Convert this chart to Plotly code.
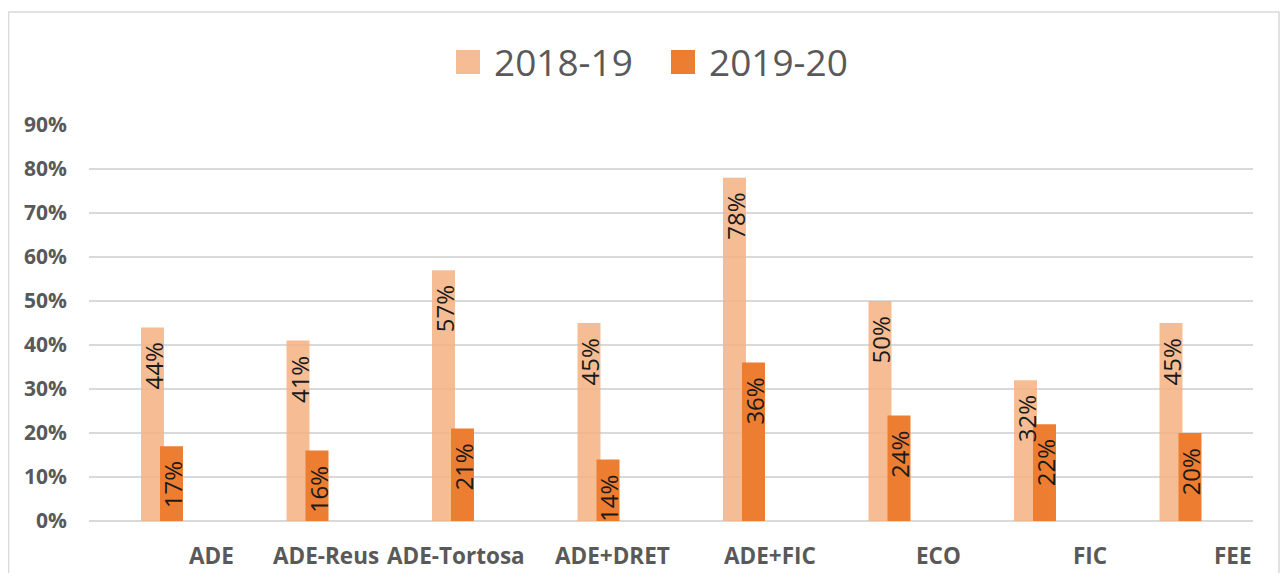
import plotly.graph_objects as go

categories = ["ADE", "ADE-Reus", "ADE-Tortosa", "ADE+DRET", "ADE+FIC", "ECO", "FIC", "FEE"]
series_names = ["2018-19", "2019-20"]
values_2018_19 = [0.44, 0.41, 0.57, 0.45, 0.78, 0.50, 0.32, 0.45]
values_2019_20 = [0.17, 0.16, 0.21, 0.14, 0.36, 0.24, 0.22, 0.20]
y_ticks = [0, 0.1, 0.2, 0.3, 0.4, 0.5, 0.6, 0.7, 0.8, 0.9]

# page body margin (8px) offsets the figure in the browser
PAGE_OFF = 8
W, H = 1272, 565
ML, MR, MT, MB = 89 - PAGE_OFF, W - (1253 - PAGE_OFF), 125 - PAGE_OFF, H - (521 - PAGE_OFF)
plot_w = W - ML - MR
plot_h = H - MT - MB
cat_px = plot_w / len(categories)

colors = ["#F4B183", "#ED7D31"]
opacities = [0.85, 1.0]
offsets = [-0.1426, -0.012]
bar_w = 0.158
gray = "#595959"

fig = go.Figure()
annotations = []
series = [values_2018_19, values_2019_20]
for name, vals, col, op, off in zip(series_names, series, colors, opacities, offsets):
    fig.add_trace(go.Bar(
        x=categories, y=vals, name=name,
        offset=off, width=bar_w,
        marker=dict(color=col, opacity=op, line=dict(width=0)),
        showlegend=False, hoverinfo="x+y",
    ))
    for c, v in zip(categories, vals):
        annotations.append(dict(
            x=c, y=v, xref="x", yref="y",
            text=f"{round(v*100)}%", showarrow=False, textangle=-90,
            xanchor="center", yanchor="top",
            xshift=(off + bar_w / 2) * cat_px + 1, yshift=-13,
            font=dict(family="Open Sans", size=24, color="#1a1a1a"),
        ))

# category labels, right-aligned at each category's right edge
for c in categories:
    annotations.append(dict(
        x=c, y=0, xref="x", yref="paper", text=f"<b>{c}</b>", showarrow=False,
        xanchor="right", yanchor="middle", xshift=cat_px / 2 + 1, yshift=-34,
        font=dict(family="Open Sans", size=22.5, color=gray),
    ))

def px_x(p):
    return (p - PAGE_OFF - ML) / plot_w

def px_y(p):
    return (H - MB - (p - PAGE_OFF)) / plot_h

shapes = []
# legend
legend_pos = [(456, 492), (671, 707)]
for (sx, tx), name, col, op in zip(legend_pos, series_names, colors, opacities):
    shapes.append(dict(type="rect", xref="paper", yref="paper",
                       x0=px_x(sx), x1=px_x(sx + 24), y0=px_y(74), y1=px_y(50),
                       fillcolor=col, opacity=op, line=dict(width=0)))
    annotations.append(dict(x=px_x(tx), y=px_y(61), xref="paper", yref="paper",
                            text=name, showarrow=False, xanchor="left", yanchor="middle",
                            font=dict(family="Open Sans", size=37, color=gray)))

# chart border
shapes.append(dict(type="rect", xref="paper", yref="paper",
                   x0=px_x(8.5), x1=px_x(1279), y0=px_y(600), y1=px_y(12),
                   line=dict(color="#D9D9D9", width=1.5), fillcolor="rgba(0,0,0,0)", layer="below"))

fig.update_layout(
    width=W, height=H,
    margin=dict(l=ML, r=MR, t=MT, b=MB),
    paper_bgcolor="white", plot_bgcolor="white",
    barmode="overlay",
    xaxis=dict(type="category", range=[-0.5, len(categories) - 0.5],
               showticklabels=False, showgrid=False, zeroline=False, showline=False, ticks=""),
    yaxis=dict(range=[0, 0.9], tickvals=y_ticks, tickformat=".0%",
               showgrid=True, gridcolor="#D9D9D9", gridwidth=1.5,
               zeroline=True, zerolinecolor="#D9D9D9", zerolinewidth=1.5,
               showline=False, ticks="", ticklabelstandoff=21,
               tickfont=dict(family="Open Sans", size=21, color=gray, weight="bold")),
    annotations=annotations, shapes=shapes,
    showlegend=False,
)

fig.write_html("out.html")
